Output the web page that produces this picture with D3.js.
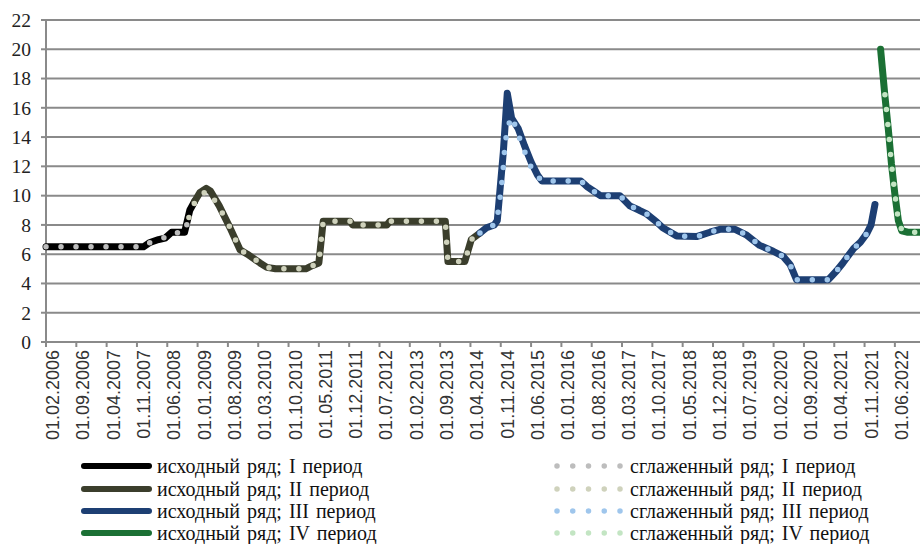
<!DOCTYPE html>
<html><head><meta charset="utf-8">
<script src="https://cdn.jsdelivr.net/npm/d3@7"></script>
<style>html,body{margin:0;padding:0;background:#fff;}svg{display:block;}</style>
</head><body><svg id="c" width="920" height="544"></svg>
<script>
// ---- data ----
const tickLabels = ["01.02.2006","01.09.2006","01.04.2007","01.11.2007","01.06.2008","01.01.2009","01.08.2009","01.03.2010","01.10.2010","01.05.2011","01.12.2011","01.07.2012","01.02.2013","01.09.2013","01.04.2014","01.11.2014","01.06.2015","01.01.2016","01.08.2016","01.03.2017","01.10.2017","01.05.2018","01.12.2018","01.07.2019","01.02.2020","01.09.2020","01.04.2021","01.11.2021","01.06.2022"];
const yTicks = [0,2,4,6,8,10,12,14,16,18,20,22];
const axisEnd = "25.11.2022";

const orig1Dates = ["01.02.2006","16.12.2007","01.02.2008","01.04.2008","16.05.2008","01.07.2008","01.10.2008","07.11.2008","10.12.2008"];
const orig1Values = [6.5,6.5,6.8,7.0,7.1,7.5,7.5,9.0,9.6];

const orig2Dates = ["10.12.2008","16.01.2009","01.03.2009","01.04.2009","01.06.2009","16.08.2009","25.10.2009","16.12.2009","13.03.2010","01.05.2010","01.07.2010","01.02.2011","01.03.2011","01.05.2011","01.06.2011","07.12.2011","25.12.2011","22.08.2012","13.09.2012","07.10.2013","25.10.2013","22.02.2014","07.04.2014","07.06.2014"];
const orig2Values = [9.6,10.2,10.5,10.3,9.3,7.8,6.3,6.0,5.4,5.1,5.0,5.0,5.15,5.4,8.25,8.25,8.0,8.0,8.25,8.25,5.5,5.5,7.0,7.45];

const orig3Dates = ["07.06.2014","22.07.2014","16.09.2014","07.10.2014","19.11.2014","16.12.2014","16.01.2015","01.03.2015","16.04.2015","01.06.2015","16.07.2015","16.08.2015","16.05.2016","01.07.2016","16.08.2016","01.10.2016","16.02.2017","25.04.2017","01.07.2017","22.08.2017","01.11.2017","13.12.2017","19.03.2018","07.08.2018","10.11.2018","19.01.2019","04.05.2019","25.07.2019","25.10.2019","28.01.2020","07.04.2020","25.05.2020","10.07.2020","19.02.2021","16.04.2021","01.06.2021","16.07.2021","16.08.2021","01.10.2021","16.11.2021","16.12.2021","13.01.2022"];
const orig3Values = [7.45,7.8,8.0,8.3,13.0,17.0,15.3,14.6,13.4,12.3,11.4,11.0,11.0,10.6,10.3,10.0,10.0,9.3,9.0,8.75,8.2,7.8,7.25,7.2,7.5,7.7,7.7,7.3,6.6,6.2,5.85,5.3,4.25,4.25,4.85,5.4,6.0,6.4,6.8,7.4,8.0,9.4];

const orig4Dates = ["22.02.2022","22.03.2022","16.04.2022","07.05.2022","01.06.2022","25.06.2022","19.07.2022","01.09.2022","25.11.2022"];
const orig4Values = [20.0,16.8,14.5,12.2,10.1,8.3,7.6,7.5,7.5];

const smooth1Dates = ["01.02.2006","16.12.2007","01.02.2008","01.04.2008","16.05.2008","01.07.2008","01.10.2008","01.11.2008"];
const smooth1Values = [6.5,6.5,6.8,7.0,7.15,7.45,7.5,8.5];

const smooth2Dates = ["01.11.2008","10.12.2008","16.01.2009","01.03.2009","01.04.2009","01.06.2009","16.08.2009","25.10.2009","16.12.2009","13.03.2010","01.05.2010","01.07.2010","01.02.2011","01.03.2011","01.05.2011","01.06.2011","07.12.2011","25.12.2011","22.08.2012","13.09.2012","07.10.2013","25.10.2013","22.02.2014","07.04.2014","07.06.2014"];
const smooth2Values = [8.5,9.5,10.0,10.3,10.1,9.2,7.8,6.3,6.0,5.4,5.1,5.0,5.0,5.15,5.4,8.25,8.25,8.0,8.0,8.25,8.25,5.5,5.5,7.0,7.45];

const smooth3Dates = ["07.06.2014","22.07.2014","16.09.2014","07.10.2014","01.11.2014","16.11.2014","01.12.2014","19.12.2014","13.01.2015","07.02.2015","19.03.2015","07.05.2015","10.06.2015","16.08.2015","16.05.2016","01.07.2016","16.08.2016","01.10.2016","16.02.2017","25.04.2017","01.07.2017","22.08.2017","01.11.2017","13.12.2017","19.03.2018","07.08.2018","10.11.2018","19.01.2019","04.05.2019","25.07.2019","25.10.2019","28.01.2020","07.04.2020","25.05.2020","10.07.2020","19.02.2021","16.04.2021","01.06.2021","16.07.2021","16.08.2021","01.10.2021","16.11.2021","07.12.2021"];
const smooth3Values = [7.45,7.8,8.0,8.5,10.2,11.6,13.6,14.6,15.4,14.9,13.7,12.5,11.75,11.0,11.0,10.6,10.3,10.0,10.0,9.3,9.0,8.75,8.2,7.8,7.25,7.2,7.5,7.7,7.7,7.3,6.6,6.2,5.85,5.3,4.25,4.25,4.85,5.4,6.0,6.4,6.8,7.4,7.8];

const smooth4Dates = ["22.03.2022","16.04.2022","07.05.2022","01.06.2022","25.06.2022","19.07.2022","01.09.2022","25.11.2022"];
const smooth4Values = [16.9,14.5,12.2,10.1,8.3,7.65,7.5,7.5];

const legendOrig = ["исходный ряд; I период","исходный ряд; II период","исходный ряд; III период","исходный ряд; IV период"];
const legendSmooth = ["сглаженный ряд; I период","сглаженный ряд; II период","сглаженный ряд; III период","сглаженный ряд; IV период"];
const origColors = ["#000000","#3b3e2c","#1d3f73","#1b7034"];
const smoothColors = ["#bdbdbd","#cfd2bc","#9fc6ec","#c3e5c3"];

// ---- helpers ----
function mIdx(s){ const [d,m,y]=s.split(".").map(Number); return (y-2006)*12 + (m-2) + (d-1)/30; }

const svg = d3.select("#c");
const L = 46, R = 920, T = 20, B = 342;
const x = d3.scaleLinear().domain([0, mIdx(axisEnd)]).range([L, R]);
const y = d3.scaleLinear().domain([0, 22]).range([B, T]);
const gridCol = "#8a8a8a";

// gridlines
svg.append("g").selectAll("line").data(yTicks).join("line")
  .attr("x1", L).attr("x2", R).attr("y1", d=>y(d)).attr("y2", d=>y(d))
  .attr("stroke", gridCol).attr("stroke-width", 2);
// y axis line
svg.append("line").attr("x1",L).attr("x2",L).attr("y1",y(22)).attr("y2",B+5).attr("stroke",gridCol).attr("stroke-width",2);
// y ticks
svg.append("g").selectAll("line").data(yTicks).join("line")
  .attr("x1", L-5).attr("x2", L).attr("y1", d=>y(d)).attr("y2", d=>y(d))
  .attr("stroke", gridCol).attr("stroke-width", 2);
svg.append("g").selectAll("text").data(yTicks).join("text")
  .attr("x", 31).attr("y", d=>y(d)).attr("dy","0.35em").attr("text-anchor","end")
  .attr("font-family","'Liberation Serif', 'Times New Roman', serif").attr("font-size",19.5).attr("fill","#222")
  .text(d=>d);
// x ticks
svg.append("g").selectAll("line").data(tickLabels).join("line")
  .attr("x1", d=>x(mIdx(d))).attr("x2", d=>x(mIdx(d))).attr("y1", B).attr("y2", B+5)
  .attr("stroke", gridCol).attr("stroke-width", 2);
svg.append("g").selectAll("text").data(tickLabels).join("text")
  .attr("transform", d=>`translate(${x(mIdx(d))},${B+8}) rotate(-90)`)
  .attr("text-anchor","end").attr("dy","0.72em")
  .attr("font-family","'Liberation Sans', Arial, sans-serif").attr("font-size",18).attr("fill","#333")
  .text(d=>d);

const line = d3.line().x(d=>x(mIdx(d[0]))).y(d=>y(d[1]));
const origs = [[orig1Dates,orig1Values],[orig2Dates,orig2Values],[orig3Dates,orig3Values],[orig4Dates,orig4Values]];
const smooths = [[smooth1Dates,smooth1Values],[smooth2Dates,smooth2Values],[smooth3Dates,smooth3Values],[smooth4Dates,smooth4Values]];

const plot = svg.append("g");
origs.forEach(([ds,vs],i)=>{
  plot.append("path").attr("d", line(d3.zip(ds,vs))).attr("fill","none")
    .attr("stroke", origColors[i]).attr("stroke-width",7).attr("stroke-linejoin","round").attr("stroke-linecap","round");
});
smooths.forEach(([ds,vs],i)=>{
  plot.append("path").attr("d", line(d3.zip(ds,vs))).attr("fill","none")
    .attr("stroke", smoothColors[i]).attr("stroke-width",5.5).attr("stroke-linejoin","round").attr("stroke-linecap","round")
    .attr("stroke-dasharray","0 15");
});

// legend
const rowsY = [466, 489, 511, 533];
const lg = svg.append("g").attr("font-family","'Liberation Serif', 'Times New Roman', serif").attr("font-size",20).attr("word-spacing","2px").attr("fill","#111");
legendOrig.forEach((t,i)=>{
  lg.append("line").attr("x1",84).attr("x2",149).attr("y1",rowsY[i]).attr("y2",rowsY[i])
    .attr("stroke",origColors[i]).attr("stroke-width",6).attr("stroke-linecap","round");
  lg.append("text").attr("x",157).attr("y",rowsY[i]).attr("dy","0.33em").text(t);
});
legendSmooth.forEach((t,i)=>{
  lg.append("line").attr("x1",557).attr("x2",621).attr("y1",rowsY[i]).attr("y2",rowsY[i])
    .attr("stroke",smoothColors[i]).attr("stroke-width",5.5).attr("stroke-linecap","round").attr("stroke-dasharray","0 15.75");
  lg.append("text").attr("x",630).attr("y",rowsY[i]).attr("dy","0.33em").text(t);
});
</script></body></html>
